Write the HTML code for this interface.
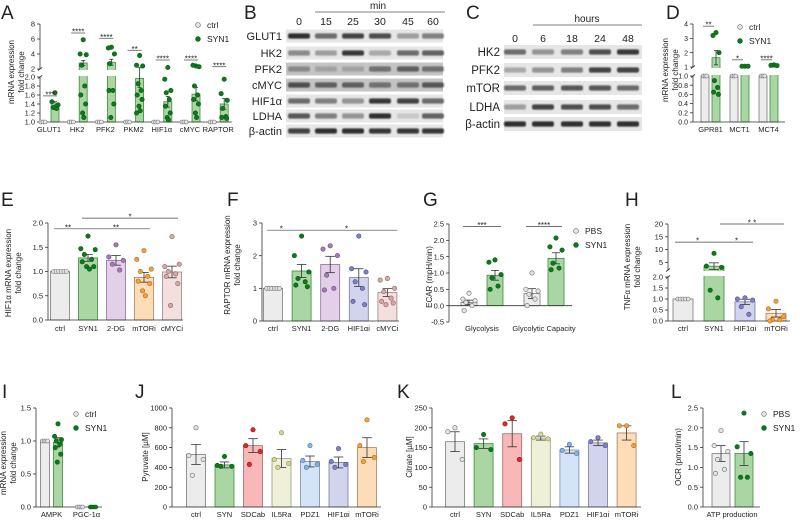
<!DOCTYPE html>
<html><head><meta charset="utf-8">
<style>
html,body{margin:0;padding:0;background:#fff;}
svg{display:block;font-family:"Liberation Sans",Arial,sans-serif;}
text{fill:#222;}
</style></head>
<body>
<svg id="fig" width="800" height="520" viewBox="0 0 800 520" xmlns="http://www.w3.org/2000/svg">
<defs><filter id="blur" x="-20%" y="-50%" width="140%" height="200%"><feGaussianBlur stdDeviation="0.9"/></filter></defs>
</svg>
<script>
// ---------- DATA ----------
// Panel A
const A_cats=['GLUT1','HK2','PFK2','PKM2','HIF1α','cMYC','RAPTOR'];
const A_ctrlMean=[1,1,1,1,1,1,1];
const A_synMean=[1.38,2.8,2.9,1.97,1.45,1.62,1.4];
const A_synSem=[0.07,0.35,0.4,0.2,0.12,0.15,0.12];
const A_synPts=[[1.65,1.45,1.38,1.32,1.3],[5.9,4,3.9,2.5,1.8,1.6,1.4,1.2,1.1],[4.9,4.8,4,2.7,1.7,1.7,1.4,1.1],[3.8,2.5,2.4,1.85,1.7,1.6,1.5,1.35,1.25,1.2],[2.2,1.95,1.7,1.65,1.5,1.35,1.2,1.1,1.05],[2.4,2.5,2.3,1.8,1.6,1.5,1.4,1.2,1.1],[1.95,1.63,1.48,1.3,1.12,1.1,1.08]];
const A_sig=['***','****','****','**','****','****','****'];
const A_sigVal=[1.58,6.8,6.1,4.5,3.2,3.2,2.3];
const A_ticksLow=[1.0,1.2,1.4,1.6,1.8,2.0];
const A_ticksHigh=[2,4,6,8];
// Panel D
const D_cats=['GPR81','MCT1','MCT4'];
const D_ctrlMean=[1,1,1];
const D_synMean=[1.65,1.05,1.15];
const D_synSem=[0.5,0.02,0.05];
const D_synPts=[[3.4,3.2,2.0,0.9,0.75,0.65,0.6],[1.05,1.05,1.05],[1.15,1.12,1.1]];
const D_sig=['**','*','****'];
const D_sigVal=[3.85,1.5,1.5];
const D_ticksLow=[0,0.2,0.4,0.6,0.8,1.0];
const D_ticksHigh=[1,2,3,4];
// Panel E
const E_cats=['ctrl','SYN1','2-DG','mTORi','cMYCi'];
const E_means=[1.0,1.28,1.23,0.88,0.99];
const E_sems=[0.01,0.07,0.1,0.1,0.12];
const E_pts=[[1,1,1,1,1,1],[1.73,1.47,1.45,1.35,1.25,1.2,1.1,1.1,1.05],[1.55,1.3,1.23,1.15,1.03],[1.43,1.25,1.05,1.0,0.9,0.8,0.75,0.6,0.5],[1.72,1.1,1.15,1.0,0.95,0.9,0.75,0.3]];
const E_ticks=[0,0.5,1.0,1.5,2.0];
// Panel F
const F_cats=['ctrl','SYN1','2-DG','HIF1αi','cMYCi'];
const F_means=[1.0,1.53,1.73,1.33,0.87];
const F_sems=[0.02,0.2,0.25,0.27,0.12];
const F_pts=[[1,1,1,1,1,1],[2.6,2.0,1.5,1.3,1.2,1.1,1.05],[2.3,2.2,2.0,1.4,1.0,0.95],[2.6,1.6,1.5,1.2,1.0,0.6,0.5],[1.3,1.25,1.0,0.9,0.7,0.6,0.55,0.5]];
const F_ticks=[0,1,2,3];
// Panel G
const G_cats=['Glycolysis','Glycolytic Capacity'];
const G_pbsMean=[0.1,0.37];
const G_pbsSem=[0.07,0.15];
const G_pbsPts=[[0.38,0.2,0.15,0.1,0.0,-0.15],[1.0,0.5,0.45,0.35,0.2,0.0]];
const G_synMean=[0.93,1.45];
const G_synSem=[0.15,0.17];
const G_synPts=[[1.4,1.33,0.95,0.85,0.6,0.5],[2.07,1.8,1.7,1.3,1.15,1.1]];
const G_sig=['***','****'];
const G_ticks=[-0.5,0,0.5,1.0,1.5,2.0,2.5];
// Panel H
const H_cats=['ctrl','SYN1','HIF1αi','mTORi'];
const H_means=[1.0,3.5,0.87,0.35];
const H_sems=[0.02,1.3,0.12,0.17];
const H_pts=[[1,1,1,1,1],[8.5,3.5,3.0,1.4,1.05],[1.05,1.0,0.95,0.65,0.3],[0.9,0.55,0.2,0.05,0.05,0.0]];
const H_ticksLow=[0,0.5,1.0,1.5,2.0];
const H_ticksHigh=[5,10,15,20];
// Panel I
const I_cats=['AMPK','PGC-1α'];
const I_ctrlMean=[1.0,0.0];
const I_synMean=[0.98,0.0];
const I_synSem=[0.07,0.0];
const I_ctrlPts=[[1,1,1,1],[0,0,0,0]];
const I_synPts=[[1.26,1.07,1.02,1.0,0.95,0.9,0.8,0.68],[0,0,0,0]];
const I_ticks=[0,0.5,1.0,1.5];
// Panel J
const J_cats=['ctrl','SYN','SDCab','IL5Ra','PDZ1','HIF1αi','mTORi'];
const J_means=[530,425,620,490,460,450,600];
const J_sems=[100,30,70,90,55,55,100];
const J_pts=[[800,520,480,320],[510,420,410,410],[780,620,560,430],[750,480,440,400],[620,470,430,400],[590,460,430,400],[880,620,500,460]];
const J_ticks=[0,200,400,600,800,1000];
// Panel K
const K_cats=['ctrl','SYN','SDCab','IL5Ra','PDZ1','HIF1αi','mTORi'];
const K_means=[165,160,185,174,144,162,187];
const K_sems=[25,12,33,5,8,7,18];
const K_pts=[[200,190,120],[183,150,145],[225,210,120],[184,175,172],[158,143,135],[175,165,155],[205,205,155]];
const K_ticks=[0,50,100,150,200,250];
// Panel L
const L_groups=['PBS','SYN1'];
const L_means=[1.35,1.35];
const L_sems=[0.2,0.3];
const L_pts=[[1.93,1.55,1.4,1.2,0.95,0.85],[2.37,1.52,1.35,0.75,0.75]];
const L_ticks=[0,0.5,1.0,1.5,2.0,2.5];
// Blots
const B_rows=['GLUT1','HK2','PFK2','cMYC','HIF1α','LDHA','β-actin'];
const B_lanes=['0','15','25','30','45','60'];
const B_int=[[0.9,0.6,0.8,0.75,0.35,0.5],[0.45,0.35,0.85,0.3,0.6,0.65],[0.35,0.2,0.2,0.5,0.6,0.5],[0.7,0.6,0.6,0.5,0.5,0.65],[0.6,0.5,0.4,0.85,0.8,0.6],[0.7,0.5,0.4,0.9,0.15,0.65],[0.8,0.9,0.9,0.85,0.85,0.85]];
const C_rows=['HK2','PFK2','mTOR','LDHA','β-actin'];
const C_lanes=['0','6','18','24','48'];
const C_int=[[0.6,0.4,0.5,0.75,0.85],[0.3,0.4,0.5,0.8,0.8],[0.6,0.65,0.7,0.7,0.6],[0.35,0.8,0.75,0.75,0.6],[0.9,0.9,0.9,0.9,0.9]];

// ---------- HELPERS ----------
const NS='http://www.w3.org/2000/svg';
const svg=document.getElementById('fig');
function mk(tag,attrs,parent){const e=document.createElementNS(NS,tag);for(const k in attrs)e.setAttribute(k,attrs[k]);(parent||svg).appendChild(e);return e;}
function txt(s,x,y,size,anchor,parent){const t=mk('text',{x:x,y:y,'font-size':size,'text-anchor':anchor||'middle'},parent);t.textContent=s;return t;}
function mkScale(segs){return function(v){for(const s of segs){if(v>=s[0]&&v<=s[1])return s[2]+(v-s[0])/(s[1]-s[0])*(s[3]-s[2]);}
 const s=v<segs[0][0]?segs[0]:segs[segs.length-1];return s[2]+(v-s[0])/(s[1]-s[0])*(s[3]-s[2]);};}
const COL={
 ctrl:{fill:'#ececec',stroke:'#7a7a7a',dot:'#e4e4e4',dotStroke:'#6a6a6a'},
 syn:{fill:'#a9d6a3',stroke:'#3f8a3f',dot:'#0b7a1a',dotStroke:'#0b5a12'},
 dg:{fill:'#e3cfe8',stroke:'#8a6f95',dot:'#a57ab8',dotStroke:'#6d4f7a'},
 mtor:{fill:'#fddcb8',stroke:'#a88160',dot:'#f2a03c',dotStroke:'#b06a1a'},
 cmyc:{fill:'#f3e0de',stroke:'#9a8583',dot:'#dba6a6',dotStroke:'#8a6262'},
 hif:{fill:'#d2d3ec',stroke:'#7a7d9c',dot:'#7b80c9',dotStroke:'#4c508a'},
 sdc:{fill:'#f8b8b8',stroke:'#a06a6a',dot:'#e3262a',dotStroke:'#901010'},
 il5:{fill:'#eef0d8',stroke:'#9a9c80',dot:'#d7d69a',dotStroke:'#8a8a50'},
 pdz:{fill:'#d3e3f8',stroke:'#7a8ca5',dot:'#86b4ea',dotStroke:'#4a70a0'}
};
const JIT=[0,-1,1,-0.5,0.5,-0.8,0.8,-0.2,0.2,-1,1];

function panelLetter(s,x,y){const t=txt(s,x,y,19,'start');
 
 }

function yAxis(g,ax,S,segs,tickSets,dec,tickFs){
 segs.forEach(s=>{const l=mk('line',{x1:ax,x2:ax,y1:s[2],y2:s[3],stroke:'#333','stroke-width':0.8},g);
  
  });
 tickSets.forEach((ticks,si)=>{const s=segs[si];const sc=mkScale([s]);
  ticks.forEach(v=>{const y=sc(v);
   mk('line',{x1:ax-3,x2:ax,y1:y,y2:y,stroke:'#333','stroke-width':0.8},g);
   const t=txt(v.toFixed(dec[si]),ax-5,y+2.6,tickFs||7.5,'end',g);
   
   });});
 if(segs.length>1){const a=segs[0][3],b=segs[1][2];
  mk('line',{x1:ax-2,x2:ax+2,y1:a+1.5,y2:a-1.5,stroke:'#333','stroke-width':0.8},g);
  mk('line',{x1:ax-2,x2:ax+2,y1:b+1.5,y2:b-1.5,stroke:'#333','stroke-width':0.8},g);}
}
function xBase(g,ax,x2,y){const l=mk('line',{x1:ax,x2:x2,y1:y,y2:y,stroke:'#333','stroke-width':0.8},g);
 
 }
function yTitle(g,lines,x,y,fs){lines.forEach((s,i)=>{const t=txt(s,x+i*10,y,fs||8,'middle',g);
 t.setAttribute('transform','rotate(-90 '+(x+i*10)+' '+y+')');
 
 });}
function catLabel(g,s,x,y){const t=txt(s,x,y,7.5,'middle',g);
 
 }
function bar(g,S,base,cx,w,mean,c,name){const y0=S(base),y1=S(mean);
 const r=mk('rect',{x:cx-w/2,y:Math.min(y0,y1),width:w,height:Math.max(0.01,Math.abs(y0-y1)),fill:c.fill,stroke:c.stroke,'stroke-width':0.8},g);
 
 }
function errbar(g,S,cx,w,mean,sem,c){if(sem<=0)return;const a=S(mean-sem),b=S(mean+sem);
 mk('line',{x1:cx,x2:cx,y1:a,y2:b,stroke:'#333','stroke-width':0.8},g);
 [a,b].forEach(y=>mk('line',{x1:cx-w*0.25,x2:cx+w*0.25,y1:y,y2:y,stroke:'#333','stroke-width':0.8},g));}
function dots(g,S,cx,w,pts,c,name,r){pts.forEach((v,i)=>{const n=pts.length;
 const off=(n>1?JIT[i%JIT.length]:0)*w*0.38;
 const d=mk('circle',{cx:cx+off,cy:S(v),r:r||2.2,fill:c.dot,stroke:c.dotStroke,'stroke-width':0.6},g);
 
 });}
function rowDots(g,S,cx,w,pts,c,name){pts.forEach((v,i)=>{const n=pts.length;
 const off=(i-(n-1)/2)*Math.min(2.6,w*0.9/n);
 const d=mk('circle',{cx:cx+off,cy:S(v),r:2,fill:c.dot,stroke:c.dotStroke,'stroke-width':0.6},g);
 
 });}
function breakBand(g,ax,x2,segs){const top=segs[1][2]+1,bot=segs[0][3]-1;
 mk('rect',{x:ax+1,y:top,width:x2-ax,height:Math.max(0,bot-top),fill:'#fff'},g);}
function sigLine(g,x1,x2,y,s){const l=mk('line',{x1:x1,x2:x2,y1:y,y2:y,stroke:'#444','stroke-width':0.7},g);
 
 
 const t=txt(s,(x1+x2)/2,y+1.5,8,'middle',g);
 
 }
function legend(g,x,y,labels,cols){labels.forEach((s,i)=>{
 const d=mk('circle',{cx:x,cy:y+i*14,r:2.4,fill:cols[i].dot,stroke:cols[i].dotStroke,'stroke-width':0.6},g);
 
 
 const t=txt(s,x+9,y+i*14+3,8.5,'start',g);
 
 });}
function group(name){const g=mk('g',{});
 
 return g;}

// ---------- PANEL A ----------
(function(){const g=group('panel-a-chart');panelLetter('A',1,19);
 const segs=[[1,2,122,77],[2,8,69,24]];const S=mkScale(segs);const ax=40;
 const cxC=i=>43+28.2*i, cxS=i=>55+28.2*i;
 A_cats.forEach((c,i)=>{bar(g,S,1,cxC(i),6,A_ctrlMean[i],COL.ctrl,'ctrl-'+c);bar(g,S,1,cxS(i),8,A_synMean[i],COL.syn,'syn1-'+c);});
 breakBand(g,ax,232,segs);
 yAxis(g,ax,S,segs,[A_ticksLow,A_ticksHigh],[1,0]);xBase(g,ax,232,S(1));
 A_cats.forEach((c,i)=>{errbar(g,S,cxS(i),8,A_synMean[i],A_synSem[i]);
  rowDots(g,S,cxC(i),7,[1,1,1],COL.ctrl,'ctrl-'+c);
  dots(g,S,cxS(i),8,A_synPts[i],COL.syn,'syn1-'+c);
  catLabel(g,c,(cxC(i)+cxS(i))/2,132);
  sigLine(g,cxC(i),cxS(i)+2,S(A_sigVal[i]),A_sig[i]);});
 yTitle(g,['mRNA expression','fold change'],14,72);
 legend(g,198,25,['ctrl','SYN1'],[COL.ctrl,COL.syn]);})();

// ---------- BLOTS ----------
function blot(name,letter,lx,rows,lanes,ints,rowY,rowH,laneX,x0,x1,labX,header,hx,hl1,hl2,hy,laneY,fs,darkRows){
 const g=group(name);panelLetter(letter,lx,19);
 const h=txt(header,hx,hy,10,'middle',g);
 
 
 mk('line',{x1:hl1,x2:hl2,y1:hy+3,y2:hy+3,stroke:'#555','stroke-width':0.8},g);
 lanes.forEach((s,i)=>{const t=txt(s,laneX[i],laneY,10.5,'middle',g);
  
  });
 rows.forEach((r,ri)=>{const y=rowY[ri];
  const bg=mk('rect',{x:x0,y:y-rowH/2,width:x1-x0,height:rowH,fill:darkRows.indexOf(ri)>=0?'#c4c4c4':'#e6e6e6'},g);
  
  
  const t=txt(r,labX,y+4,fs,'end',g);
  
  
  ints[ri].forEach((v,li)=>{const b=mk('rect',{x:laneX[li]-11,y:y-2.6,width:22,height:5.2,rx:2,fill:'#1c1c1c',opacity:v,filter:'url(#blur)'},g);
   
   });});}
blot('panel-b-blot','B',244,B_rows,B_lanes,B_int,[36,53,69,85,101,116,131],13,[299,326,353,380,408,433],286,443,282,'min',378,315,445,9,25,11,[2,3]);
blot('panel-c-blot','C',466,C_rows,C_lanes,C_int,[52,70,88,107,124],14,[515,543,572,600,628],504,642,500,'hours',587,533,642,22,42,11.5,[]);

// ---------- PANEL D ----------
(function(){const g=group('panel-d-chart');panelLetter('D',666,19);
 const segs=[[0,1,122,76],[1,4,67,24]];const S=mkScale(segs);const ax=693;
 const cxC=i=>705+29*i,cxS=i=>716+29*i;
 D_cats.forEach((c,i)=>{bar(g,S,0,cxC(i),8,D_ctrlMean[i],COL.ctrl,'ctrl-'+c);bar(g,S,0,cxS(i),8,D_synMean[i],COL.syn,'syn1-'+c);});
 breakBand(g,ax,785,segs);
 yAxis(g,ax,S,segs,[D_ticksLow,D_ticksHigh],[1,0],7);xBase(g,ax,785,S(0));
 D_cats.forEach((c,i)=>{errbar(g,S,cxS(i),8,D_synMean[i],D_synSem[i]);
  rowDots(g,S,cxC(i),6,[1,1,1],COL.ctrl,'ctrl-'+c);
  dots(g,S,cxS(i),8,D_synPts[i],COL.syn,'syn1-'+c);
  catLabel(g,c,(cxC(i)+cxS(i))/2,132);
  sigLine(g,cxC(i)-2,cxS(i)-2,S(D_sigVal[i]),D_sig[i]);});
 yTitle(g,['mRNA expression','fold change'],668,70);
 legend(g,740,27,['ctrl','SYN1'],[COL.ctrl,COL.syn]);})();

// ---------- single-series panels ----------
function simple(name,letter,lx,ly,ax,segs,tickSets,dec,x0,step,w,xEnd,cats,means,sems,pts,cols,labY,title,tx,ty,base){
 const g=group(name);panelLetter(letter,lx,ly);const S=mkScale(segs);
 const cx=i=>x0+step*i;
 cats.forEach((c,i)=>bar(g,S,base,cx(i),w,means[i],cols[i],c));
 if(segs.length>1)breakBand(g,ax,xEnd,segs);
 yAxis(g,ax,S,segs,tickSets,dec);xBase(g,ax,xEnd,S(base));
 cats.forEach((c,i)=>{errbar(g,S,cx(i),w,means[i],sems[i]);
  const allSame=pts[i].every(v=>v===pts[i][0]);
  if(allSame)rowDots(g,S,cx(i),w,pts[i],cols[i],c);else dots(g,S,cx(i),w,pts[i],cols[i],c);
  catLabel(g,c,cx(i),labY);});
 yTitle(g,title,tx,ty);return {g:g,S:S,cx:cx};}

// E
(function(){const r=simple('panel-e-chart','E',1,206,48,[[0,2,320,223]],[E_ticks],[1],60,28,19,183,E_cats,E_means,E_sems,E_pts,[COL.ctrl,COL.syn,COL.dg,COL.mtor,COL.cmyc],331,['HIF1α mRNA expression','fold change'],11,273,0);
 sigLine(r.g,r.cx(0)-6,r.cx(1)-6,r.S(1.88),'**');sigLine(r.g,r.cx(1)-6,r.cx(3)+6,r.S(1.88),'**');sigLine(r.g,r.cx(1)-6,r.cx(4)+6,r.S(2.1),'*');})();
// F
(function(){const r=simple('panel-f-chart','F',227,206,262,[[0,3,321,223]],[F_ticks],[0],273,28.6,19,399,F_cats,F_means,F_sems,F_pts,[COL.ctrl,COL.syn,COL.dg,COL.hif,COL.cmyc],331,['RAPTOR mRNA expression','fold change'],230,265,0);
 sigLine(r.g,r.cx(0)-6,r.cx(1)-6,r.S(2.78),'*');sigLine(r.g,r.cx(1)-6,r.cx(4)+10,r.S(2.78),'*');})();
// H
(function(){const segs=[[0,2,321,277],[2,20,270,224]];
 const r=simple('panel-h-chart','H',625,206,668,segs,[H_ticksLow,H_ticksHigh],[1,0],683,31,20,790,H_cats,H_means,H_sems,H_pts,[COL.ctrl,COL.syn,COL.hif,COL.mtor],331,['TNFα mRNA expression','fold change'],630,267,0);
 sigLine(r.g,r.cx(0)-8,r.cx(1)+6,r.S(12.9),'*');sigLine(r.g,r.cx(1)+6,r.cx(2)+8,r.S(12.9),'*');sigLine(r.g,r.cx(1)+6,r.cx(3)+8,r.S(20),'* *');})();
// J
simple('panel-j-chart','J',135,398,172,[[0,1000,507,408]],[J_ticks],[0],196,28.5,19,381,J_cats,J_means,J_sems,J_pts,[COL.ctrl,COL.syn,COL.sdc,COL.il5,COL.pdz,COL.hif,COL.mtor],517,['Pyruvate [µM]'],148,457,0);
// K
simple('panel-k-chart','K',397,398,432,[[0,250,507,408]],[K_ticks],[0],455,28.6,19,641,K_cats,K_means,K_sems,K_pts,[COL.ctrl,COL.syn,COL.sdc,COL.il5,COL.pdz,COL.hif,COL.mtor],517,['Citrate [µM]'],412,457,0);

// ---------- PANEL G ----------
(function(){const g=group('panel-g-chart');panelLetter('G',423,206);
 const segs=[[-0.5,2.5,322,224]];const S=mkScale(segs);const ax=449;
 const cxP=i=>469+63*i,cxS=i=>495+61*i;
 G_cats.forEach((c,i)=>{bar(g,S,0,cxP(i),16,G_pbsMean[i],COL.ctrl,'pbs-'+c);bar(g,S,0,cxS(i),16,G_synMean[i],COL.syn,'syn1-'+c);});
 yAxis(g,ax,S,segs,[G_ticks],[1]);xBase(g,ax,572,S(0));
 G_cats.forEach((c,i)=>{errbar(g,S,cxP(i),16,G_pbsMean[i],G_pbsSem[i]);errbar(g,S,cxS(i),16,G_synMean[i],G_synSem[i]);
  dots(g,S,cxP(i),16,G_pbsPts[i],COL.ctrl,'pbs-'+c);dots(g,S,cxS(i),16,G_synPts[i],COL.syn,'syn1-'+c);
  catLabel(g,c,(cxP(i)+cxS(i))/2,331);
  sigLine(g,cxP(i)-6,cxS(i)+6,S(2.42),G_sig[i]);});
 yTitle(g,['ECAR (mpH/min)'],432,277);
 legend(g,576,231,['PBS','SYN1'],[COL.ctrl,COL.syn]);})();

// ---------- PANEL I ----------
(function(){const g=group('panel-i-chart');panelLetter('I',2,398);
 const segs=[[0,1.5,507,408]];const S=mkScale(segs);const ax=36;
 const cxC=i=>45+35*i,cxS=i=>58+35*i;
 I_cats.forEach((c,i)=>{bar(g,S,0,cxC(i),9,I_ctrlMean[i],COL.ctrl,'ctrl-'+c);bar(g,S,0,cxS(i),9,I_synMean[i],COL.syn,'syn1-'+c);});
 yAxis(g,ax,S,segs,[I_ticks],[1]);xBase(g,ax,102,S(0));
 I_cats.forEach((c,i)=>{errbar(g,S,cxS(i),9,I_synMean[i],I_synSem[i]);
  rowDots(g,S,cxC(i),8,I_ctrlPts[i],COL.ctrl,'ctrl-'+c);
  if(I_synPts[i].every(v=>v===I_synPts[i][0]))rowDots(g,S,cxS(i),8,I_synPts[i],COL.syn,'syn1-'+c);else dots(g,S,cxS(i),9,I_synPts[i],COL.syn,'syn1-'+c);
  catLabel(g,c,(cxC(i)+cxS(i))/2,517);});
 yTitle(g,['mRNA expression','fold change'],6,463);
 legend(g,76,414,['ctrl','SYN1'],[COL.ctrl,COL.syn]);})();

// ---------- PANEL L ----------
(function(){const g=group('panel-l-chart');panelLetter('L',671,398);
 const segs=[[0,2.5,507,408]];const S=mkScale(segs);const ax=703;
 const cx=i=>721+23*i;const cols=[COL.ctrl,COL.syn];
 L_groups.forEach((c,i)=>bar(g,S,0,cx(i),18,L_means[i],cols[i],c));
 yAxis(g,ax,S,segs,[L_ticks],[1]);xBase(g,ax,760,S(0));
 L_groups.forEach((c,i)=>{errbar(g,S,cx(i),18,L_means[i],L_sems[i]);dots(g,S,cx(i),18,L_pts[i],cols[i],c);});
 catLabel(g,'ATP production',732,517);
 yTitle(g,['OCR (pmol/min)'],681,457);
 legend(g,764,414,['PBS','SYN1'],[COL.ctrl,COL.syn]);})();
</script>
</body></html>
